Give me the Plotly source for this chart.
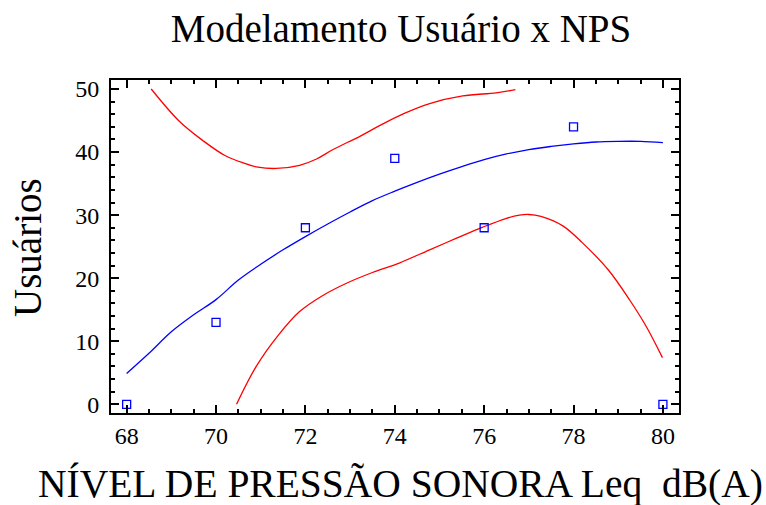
import plotly.graph_objects as go

# Observed data
nps = [68, 70, 72, 74, 76, 78, 80]
usuarios = [0, 13, 28, 39, 28, 44, 0]

# Fitted model
fit_x = [68, 68.5, 69, 69.5, 70, 70.5, 71, 71.5, 72, 72.5, 73, 73.5, 74, 74.5, 75,
         75.5, 76, 76.5, 77, 77.5, 78, 78.5, 79, 79.5, 80]
fit_y = [4.9, 8.1, 11.5, 14.2, 16.6, 19.7, 22.2, 24.5, 26.6, 28.6, 30.5, 32.3, 33.8,
         35.2, 36.5, 37.7, 38.8, 39.7, 40.4, 40.9, 41.3, 41.6, 41.7, 41.7, 41.5]

# Upper limit
up_x = [68.55, 69.19, 69.71, 70.19, 70.6, 70.94, 71.35, 71.87, 72.25, 72.62, 73.22,
        73.66, 74.2, 74.78, 75.52, 76.27, 76.7]
up_y = [50, 44.8, 41.8, 39.5, 38.3, 37.6, 37.4, 37.9, 38.9, 40.4, 42.5, 44.2, 46.1,
        47.7, 48.9, 49.4, 49.9]

# Lower limit
lo_x = [70.46, 70.9, 71.4, 71.87, 72.4, 72.92, 73.5, 74.1, 74.78, 75.37, 75.97, 76.5,
        76.79, 77.0, 77.27, 77.76, 78.2, 78.78, 79.26, 79.63, 79.99]
lo_y = [0, 6.0, 11.0, 14.7, 17.3, 19.2, 20.9, 22.4, 24.5, 26.3, 28.1, 29.5, 30.0,
        30.1, 29.8, 28.3, 25.6, 21.3, 16.5, 12.3, 7.4]

x_ticks = [68, 70, 72, 74, 76, 78, 80]
y_ticks = [0, 10, 20, 30, 40, 50]

FONT = "Liberation Serif, Times New Roman, serif"

fig = go.Figure()
fig.add_trace(go.Scatter(x=up_x, y=up_y, mode="lines", line=dict(color="#FF0000", width=1.3),
                         line_shape="spline", hoverinfo="skip"))
fig.add_trace(go.Scatter(x=lo_x, y=lo_y, mode="lines", line=dict(color="#FF0000", width=1.3),
                         line_shape="spline", hoverinfo="skip"))
fig.add_trace(go.Scatter(x=fit_x, y=fit_y, mode="lines", line=dict(color="#0000FF", width=1.3),
                         line_shape="spline"))
fig.add_trace(go.Scatter(x=nps, y=usuarios, mode="markers",
                         marker=dict(symbol="square-open", size=8, color="#0000FF",
                                     line=dict(width=1.3, color="#0000FF")),
                         cliponaxis=False))

axis_common = dict(
    showgrid=False, zeroline=False, showline=True, linecolor="black", linewidth=2,
    mirror="allticks", ticks="inside", tickcolor="black", tickwidth=2,
    tickfont=dict(family=FONT, size=24, color="black"),
)

fig.update_xaxes(range=[67.65, 80.36], tickvals=x_ticks, ticklen=8,
                 minor=dict(dtick=0.5, tick0=68, ticks="inside", ticklen=4, tickwidth=1.5,
                            tickcolor="black"),
                 **axis_common)
fig.update_yaxes(range=[-1.38, 51.43], tickvals=y_ticks, ticklen=8, ticklabelstandoff=5,
                 minor=dict(dtick=2, tick0=0, ticks="inside", ticklen=4, tickwidth=1.5,
                            tickcolor="black"),
                 **axis_common)

fig.update_layout(
    width=766, height=505,
    margin=dict(l=111, r=87, t=80, b=92),
    paper_bgcolor="white", plot_bgcolor="white",
    showlegend=False,
    font=dict(family=FONT, color="black"),
    title=dict(text="Modelamento Usuário x NPS", x=401 / 766, xanchor="center",
               y=1 - 28 / 505, yanchor="middle",
               font=dict(family=FONT, size=39, color="black")),
    annotations=[
        dict(text="NÍVEL DE PRESSÃO SONORA Leq  dB(A)", xref="paper", yref="paper",
             x=(400 - 111) / 568, y=-(484 - 413) / 333, xanchor="center", yanchor="middle",
             showarrow=False, font=dict(family=FONT, size=39.5, color="black")),
        dict(text="Usuários", xref="paper", yref="paper", textangle=-90,
             x=-(111 - 28) / 568, y=(413 - 248) / 333, xanchor="center", yanchor="middle",
             showarrow=False, font=dict(family=FONT, size=39, color="black")),
    ],
)

fig.write_html("out.html", config={"displayModeBar": False},
               post_script="document.body.style.margin='0';document.body.style.overflow='hidden';")
